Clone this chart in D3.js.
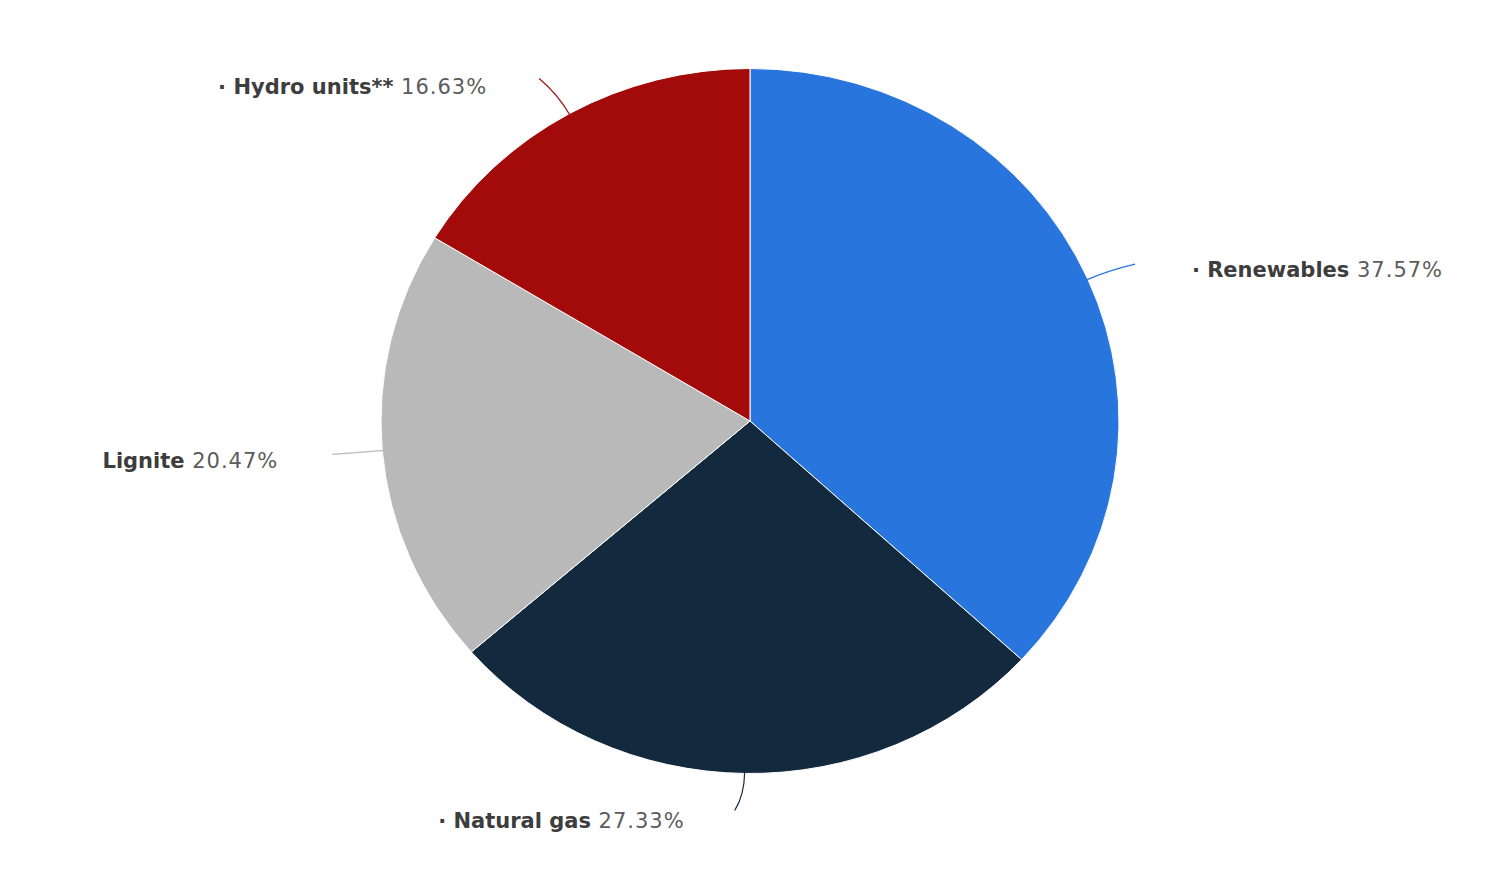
<!DOCTYPE html>
<html>
<head>
<meta charset="utf-8">
<script src="https://cdn.jsdelivr.net/npm/d3@7"></script>
<style>
  html, body { margin: 0; padding: 0; background: #fff; }
  svg { display: block; }
  .lbl { font-family: "DejaVu Sans", sans-serif; font-size: 21px; }
  .lbl .name { font-weight: bold; fill: #3d3d3d; }
  .lbl .val { fill: #5c5c5c; letter-spacing: 1px; }
</style>
</head>
<body>
<svg id="chart" width="1491" height="875"></svg>
<script>
// ---------- Data ----------
const categories = ['Renewables', 'Natural gas', 'Lignite', 'Hydro units**'];
const shares = [37.57, 27.33, 20.47, 16.63];
const colors = ['#2876dd', '#13293d', '#b9b9b9', '#a30b0b'];
const bullets = [true, true, false, true];

// ---------- Layout ----------
const width = 1491, height = 875;
const cx = 750, cy = 421;
const ry = 352.5, rx = 369;
const sx = rx / ry;

// label placement, relative to the slice's edge point (connector end + text position)
const labelLayout = [
  { end: [49, -16], text: [104, -9], anchor: 'start' },
  { end: [-10, 39], text: [-60, 47.5], anchor: 'end' },
  { end: [-52, 4], text: [-104, 10.5], anchor: 'end' },
  { end: [-31, -37], text: [-82, -27], anchor: 'end' }
];

const svg = d3.select('#chart');

const pie = d3.pie().sort(null).value(d => d.value);
const arcs = pie(categories.map((c, i) => ({ name: c, value: shares[i], i })));

const arc = d3.arc().innerRadius(0).outerRadius(ry);

const pieG = svg.append('g')
  .attr('transform', `translate(${cx},${cy}) scale(${sx},1)`);

pieG.selectAll('path')
  .data(arcs)
  .join('path')
  .attr('d', arc)
  .attr('fill', d => colors[d.data.i])
  .attr('stroke', '#fff')
  .attr('stroke-width', 1)
  .attr('vector-effect', 'non-scaling-stroke');

// edge point at the slice's mid angle, in screen coords
function edgePoint(d, extra = 0) {
  const a = (d.startAngle + d.endAngle) / 2;
  return [cx + (rx + extra) * Math.sin(a), cy - (ry + extra) * Math.cos(a)];
}

// ---------- Connectors ----------
const connG = svg.append('g');
connG.selectAll('path')
  .data(arcs)
  .join('path')
  .attr('fill', 'none')
  .attr('stroke', d => colors[d.data.i])
  .attr('stroke-width', 1.2)
  .attr('d', d => {
    const p0 = edgePoint(d, -2);
    const ctrl = edgePoint(d, 22);
    const L = labelLayout[d.data.i];
    const p1 = [p0[0] + L.end[0], p0[1] + L.end[1]];
    return `M${p0[0]},${p0[1]} Q${ctrl[0]},${ctrl[1]} ${p1[0]},${p1[1]}`;
  });

// ---------- Labels ----------
const labG = svg.append('g');
labG.selectAll('text')
  .data(arcs)
  .join('text')
  .attr('class', 'lbl')
  .attr('dominant-baseline', 'central')
  .attr('text-anchor', d => labelLayout[d.data.i].anchor)
  .attr('x', d => edgePoint(d)[0] + labelLayout[d.data.i].text[0])
  .attr('y', d => edgePoint(d)[1] + labelLayout[d.data.i].text[1])
  .each(function (d) {
    const t = d3.select(this);
    if (bullets[d.data.i]) t.append('tspan').attr('class', 'name').text('·  ');
    t.append('tspan').attr('class', 'name').text(d.data.name);
    t.append('tspan').attr('class', 'val').text(' ' + d.data.value.toFixed(2) + '%');
  });
</script>
</body>
</html>
